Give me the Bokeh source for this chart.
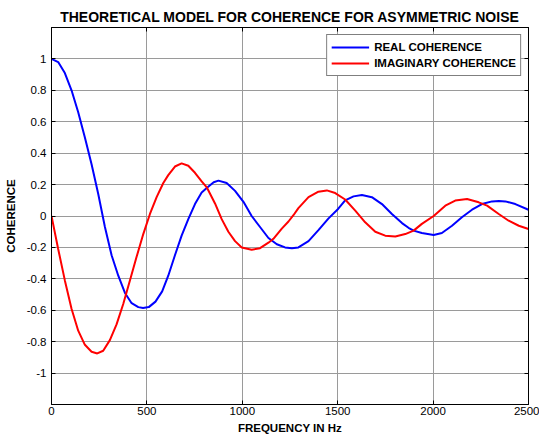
from bokeh.plotting import figure
from bokeh.models import Range1d, FixedTicker, LinearAxis, Legend, LegendItem, ColumnDataSource
from bokeh.embed import file_html
from bokeh.resources import INLINE

# ---- data ----
real_freq = [0, 35, 70, 105, 140, 175, 210, 245, 280, 315, 350, 385, 420, 455, 480,
             510, 545, 580, 612, 647, 682, 717, 752, 787, 815, 850, 875, 918, 962,
             1006, 1049, 1093, 1137, 1181, 1224, 1260, 1294, 1347, 1399, 1452, 1502,
             1539, 1583, 1627, 1679, 1732, 1784, 1837, 1871, 1898, 1941, 2003, 2046,
             2099, 2151, 2204, 2256, 2309, 2345, 2379, 2431, 2500]
real_coh = [1.0, 0.98, 0.91, 0.80, 0.66, 0.50, 0.33, 0.14, -0.07, -0.25, -0.38, -0.49,
            -0.555, -0.58, -0.586, -0.58, -0.545, -0.48, -0.38, -0.25, -0.125, -0.02,
            0.076, 0.15, 0.18, 0.215, 0.225, 0.21, 0.16, 0.09, 0.0, -0.07, -0.14,
            -0.18, -0.20, -0.205, -0.20, -0.16, -0.09, -0.015, 0.045, 0.10, 0.125,
            0.134, 0.12, 0.076, 0.013, -0.045, -0.075, -0.093, -0.108, -0.121, -0.108,
            -0.062, -0.008, 0.04, 0.076, 0.093, 0.095, 0.093, 0.076, 0.04]

imag_freq = [0, 35, 70, 105, 140, 175, 210, 240, 271, 306, 341, 376, 411, 446, 481,
             516, 551, 586, 612, 647, 682, 717, 752, 787, 815, 857, 892, 927, 962,
             997, 1049, 1093, 1137, 1163, 1207, 1242, 1268, 1294, 1347, 1399, 1443,
             1487, 1539, 1592, 1644, 1697, 1749, 1802, 1854, 1898, 1941, 2003, 2064,
             2116, 2178, 2239, 2283, 2344, 2396, 2449, 2500]
imag_coh = [0.0, -0.21, -0.41, -0.59, -0.73, -0.82, -0.864, -0.875, -0.858, -0.79,
            -0.69, -0.56, -0.41, -0.26, -0.115, 0.013, 0.12, 0.21, 0.26, 0.315, 0.335,
            0.32, 0.275, 0.22, 0.18, 0.08, -0.02, -0.10, -0.16, -0.20, -0.215, -0.205,
            -0.17, -0.145, -0.08, -0.035, 0.005, 0.05, 0.12, 0.155, 0.163, 0.146,
            0.105, 0.034, -0.04, -0.10, -0.125, -0.13, -0.115, -0.093, -0.05, 0.0,
            0.066, 0.098, 0.108, 0.087, 0.066, 0.013, -0.03, -0.062, -0.083]

x_ticks = [0, 500, 1000, 1500, 2000, 2500]
x_tick_labels = ["0", "500", "1000", "1500", "2000", "2500"]
y_ticks = [-1, -0.8, -0.6, -0.4, -0.2, 0, 0.2, 0.4, 0.6, 0.8, 1]
y_tick_labels = ["-1", "-0.8", "-0.6", "-0.4", "-0.2", "0", "0.2", "0.4", "0.6", "0.8", "1"]

title_text = "THEORETICAL MODEL FOR COHERENCE FOR ASYMMETRIC NOISE"
x_label = "FREQUENCY IN Hz"
y_label = "COHERENCE"
series_names = ["REAL COHERENCE", "IMAGINARY COHERENCE"]

FONT = "Liberation Sans"

p = figure(width=539, height=437, x_range=Range1d(0, 2500), y_range=Range1d(-1.2, 1.2),
           output_backend="svg", toolbar_location=None,
           min_border_left=51, min_border_right=11, min_border_top=27, min_border_bottom=33,
           title=title_text)
p.background_fill_color = "white"
p.border_fill_color = "white"
p.outline_line_color = "black"
p.outline_line_width = 1

p.title.align = "center"
p.title.text_font = FONT
p.title.text_font_style = "bold"
p.title.text_font_size = "14px"
p.title.text_color = "black"
p.title.standoff = 5

src_r = ColumnDataSource(dict(x=real_freq, y=real_coh))
src_i = ColumnDataSource(dict(x=imag_freq, y=imag_coh))
r1 = p.line("x", "y", source=src_r, line_color="#0000ff", line_width=2)
r2 = p.line("x", "y", source=src_i, line_color="#ff0000", line_width=2)

for ax in (p.xaxis[0], p.yaxis[0]):
    ax.major_tick_in = 4
    ax.major_tick_out = 0
    ax.minor_tick_line_color = None
    ax.axis_line_color = "black"
    ax.major_tick_line_color = "black"
    ax.major_label_text_font = FONT
    ax.major_label_text_font_size = "11.5px"
    ax.major_label_text_color = "black"
    ax.axis_label_text_font = FONT
    ax.axis_label_text_font_style = "bold"
    ax.axis_label_text_font_size = "11.5px"
    ax.axis_label_text_color = "black"

p.xaxis[0].ticker = FixedTicker(ticks=x_ticks)
p.xaxis[0].major_label_overrides = dict(zip(x_ticks, x_tick_labels))
p.xaxis[0].axis_label = x_label
p.xaxis[0].major_label_standoff = 2
p.xaxis[0].axis_label_standoff = 4

p.yaxis[0].ticker = FixedTicker(ticks=y_ticks)
p.yaxis[0].major_label_overrides = dict(zip(y_ticks, y_tick_labels))
p.yaxis[0].axis_label = y_label
p.yaxis[0].major_label_standoff = 5
p.yaxis[0].axis_label_standoff = 7

# inward ticks on the top and right box edges (no labels drawn)
for loc, ticks in (("above", x_ticks), ("right", y_ticks)):
    a = LinearAxis(ticker=FixedTicker(ticks=ticks), major_tick_in=4, major_tick_out=0,
                   minor_tick_line_color=None, major_label_text_color=None,
                   major_label_text_font_size="0px",
                   major_label_standoff=0, axis_line_color="black")
    p.add_layout(a, loc)

p.grid.grid_line_color = "#9a9a9a"
p.grid.grid_line_width = 1

legend = Legend(items=[LegendItem(label=series_names[0], renderers=[r1]),
                       LegendItem(label=series_names[1], renderers=[r2])],
                location="top_right")
legend.margin = 7
legend.padding = 4
legend.spacing = 0
legend.glyph_width = 38
legend.glyph_height = 16
legend.label_height = 16
legend.label_standoff = 5
legend.label_text_font = FONT
legend.label_text_font_style = "bold"
legend.label_text_font_size = "11.5px"
legend.label_text_color = "black"
legend.border_line_color = "black"
legend.border_line_width = 1
legend.background_fill_color = "white"
legend.background_fill_alpha = 1
p.add_layout(legend)

open("out.html", "w").write(file_html(p, INLINE))
